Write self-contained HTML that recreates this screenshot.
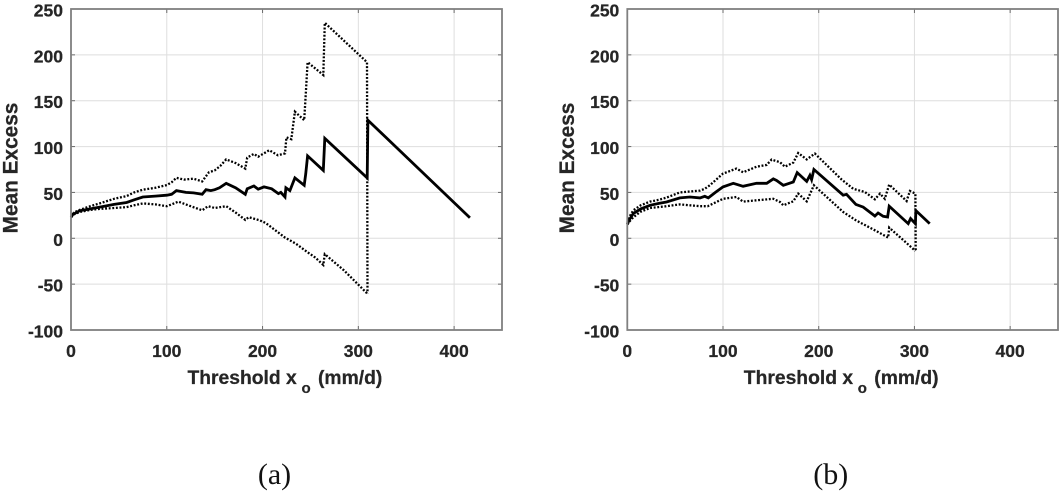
<!DOCTYPE html>
<html><head><meta charset="utf-8">
<style>
html,body{margin:0;padding:0;background:#fff}
svg{display:block}
text{font-family:"Liberation Sans",sans-serif;font-weight:bold;fill:#262626;stroke:#262626;stroke-width:.25}
</style></head>
<body>
<svg id="fig" width="1060" height="494" viewBox="0 0 1060 494" xmlns="http://www.w3.org/2000/svg"></svg>
<script>
const xTicks = [0, 100, 200, 300, 400];
const yTicks = [-100, -50, 0, 50, 100, 150, 200, 250];
const xDomain = [0, 450];
const yDomain = [-100, 250];

const aMeanX = [0,2,9,20,30,45,58,66,75,88,100,105,110,120,128,137,141,146,150,155,162,172,182,184,191,195.5,201.5,209.5,216.5,219,223.4,224.4,228.6,233.8,243.5,245,247,263.4,265,309.3,310,416.5];
const aMeanY = [23,26,30,32,34,37,39,42,45,46,47,48,52,50,49.5,48,53,52,53,55,60,55,48,54,57,53.5,56,54,48.7,50,45,55,52,65.8,57.8,70,89.8,74,109,65.8,128.7,22.5];
const aUpperX = [0,3,9,20,30,45,58,66,75,88,100,105,110,118,128,137,144,150,156,162,172,182,184,191,195.5,207,216,223.4,224.9,230,233.8,243.5,245,247,263.4,265,309,309.6];
const aUpperY = [23,28,31,35,38,43,46,50,53,55,58,61,66,64,65,62,72,74,79,86,82,76,88,92,89,96,90.5,92.5,110,108,138,128.7,156,192,178,235,192,-60];
const aLowerX = [0,3,9,20,30,45,58,66,75,88,100,105,112,125,137,143,150,162,172,182,185.5,197,203.3,223.4,235,246.6,255,263.4,265,285,309];
const aLowerY = [23,26,28.7,31,32,33,34,36,38,37,35,37,40,35,30.5,35,33,35,28,20,23,19.6,16.7,0.7,-6,-15,-21,-29,-17.4,-35,-60];

const bMeanX = [0,2,6.3,14,23.7,33,41,55,65.5,76,81,84.6,92,100,110.7,121,135,145.6,152.5,156,163,173.4,177.5,187.4,190.8,192.6,195,225.6,229,238.8,246.5,258.7,262,267.4,272,273.6,293.5,296,301,301.5,316];
const bMeanY = [15,20,27,32,36,38,39.6,44,45,44,45.8,44,50,56,60,56.7,60,60,64.7,63,57.8,61.4,71.6,62,68.7,64,75,47,48,37,34,24.3,27.6,24,23.2,35,16,21.5,16,30.2,16];
const bUpperX = [0,2,6.3,14,23.7,33,41,55,76,81,86.4,100,114,121,135,145.6,150.8,159.5,164.7,173.4,178.6,187.4,196,224,236,248.2,258.7,264,269,273.6,291.8,295.3,301,301.3];
const bUpperY = [17,23,30.5,36,40,42,44.4,50,52,54,58,70.5,76,72,78,80,85.8,83,78,82.5,93,86,92.3,64,54,50.5,42.5,48.7,43,58.5,40.7,51.6,48.7,-13.8];
const bLowerX = [0,2,6.3,14,23.7,41,55,76,84,100,114,121,135,152.5,159.5,163,173.4,178.6,187.4,195,225.6,238.8,258.7,272.6,273.6,301];
const bLowerY = [15,18,23,29,33,35,37,35,35,43,45,40,41.4,43,39.6,36,40.3,48.7,40.3,57.8,28.7,19.6,8.7,0.8,11.7,-13.8];

const NS = 'http://www.w3.org/2000/svg';
const fig = document.getElementById('fig');

function make(parent, tag, attrs) {
  const el = document.createElementNS(NS, tag);
  for (const k in attrs) el.setAttribute(k, attrs[k]);
  parent.appendChild(el);
  return el;
}

function drawPanel(box, id, mean, upper, lower, letter) {
  const g = make(fig, 'g', {});
  
  

  const sx = v => box.x0 + (v - xDomain[0]) / (xDomain[1] - xDomain[0]) * (box.x1 - box.x0);
  const sy = v => box.y1 - (v - yDomain[0]) / (yDomain[1] - yDomain[0]) * (box.y1 - box.y0);
  const pts = (xs, ys) => xs.map((x, i) => sx(x).toFixed(1) + ',' + sy(ys[i]).toFixed(1)).join(' ');

  xTicks.forEach(t => {
    const grid = make(g, 'line', {x1: sx(t), x2: sx(t), y1: box.y0, y2: box.y1, stroke: '#dedede', 'stroke-width': 1});
    
    
    const tick = make(g, 'line', {x1: sx(t), x2: sx(t), y1: box.y1, y2: box.y1 - 4, stroke: '#6a6a6a', 'stroke-width': 1});
    
    
    make(g, 'line', {x1: sx(t), x2: sx(t), y1: box.y0, y2: box.y0 + 4, stroke: '#6a6a6a', 'stroke-width': 1});
    const label = make(g, 'text', {x: sx(t), y: box.y1 + 27, 'text-anchor': 'middle', 'font-size': 17.5});
    
    
    label.textContent = t;
  });
  yTicks.forEach(t => {
    const grid = make(g, 'line', {x1: box.x0, x2: box.x1, y1: sy(t), y2: sy(t), stroke: '#dedede', 'stroke-width': 1});
    
    
    const tick = make(g, 'line', {x1: box.x0, x2: box.x0 + 4, y1: sy(t), y2: sy(t), stroke: '#6a6a6a', 'stroke-width': 1});
    
    
    make(g, 'line', {x1: box.x1 - 4, x2: box.x1, y1: sy(t), y2: sy(t), stroke: '#6a6a6a', 'stroke-width': 1});
    const label = make(g, 'text', {x: box.x0 - 8, y: sy(t) + 7.5, 'text-anchor': 'end', 'font-size': 17.5});
    
    
    label.textContent = t;
  });

  const upperLine = make(g, 'polyline', {points: pts(upper[0], upper[1]), fill: 'none', stroke: '#000', 'stroke-width': 2.3, 'stroke-dasharray': '1.9 1.7'});
  
  
  const lowerLine = make(g, 'polyline', {points: pts(lower[0], lower[1]), fill: 'none', stroke: '#000', 'stroke-width': 2.3, 'stroke-dasharray': '1.9 1.7'});
  
  
  const meanLine = make(g, 'polyline', {points: pts(mean[0], mean[1]), fill: 'none', stroke: '#000', 'stroke-width': 2.8, 'stroke-linejoin': 'miter'});
  
  

  const frame = make(g, 'rect', {x: box.x0, y: box.y0, width: box.x1 - box.x0, height: box.y1 - box.y0, fill: 'none', stroke: '#808080', 'stroke-width': 1.8});
  
  

  const xTitle = make(g, 'text', {x: box.x0 + 116.5, y: box.y1 + 54, 'font-size': 19.3});
  
  
  xTitle.textContent = 'Threshold x';
  const xSub = make(g, 'text', {x: box.x0 + 230.5, y: box.y1 + 63, 'font-size': 15});
  
  
  xSub.textContent = 'o';
  const xUnit = make(g, 'text', {x: box.x0 + 247, y: box.y1 + 54, 'font-size': 19.3});
  
  
  xUnit.textContent = '(mm/d)';

  const yTitle = make(g, 'text', {x: 0, y: 0, 'text-anchor': 'middle', 'font-size': 20.8, transform: 'translate(' + (box.x0 - 53.5) + ' 168) rotate(-90)'});
  
  
  yTitle.textContent = 'Mean Excess';

  const caption = make(g, 'text', {x: box.x0 + 203.5, y: 484, 'text-anchor': 'middle', 'font-size': 30});
  
  
  caption.setAttribute('style', 'font-family:"Liberation Serif",serif;font-weight:normal;fill:#111;stroke:none');
  caption.textContent = letter;
}

drawPanel({x0: 71, x1: 502, y0: 9, y1: 330}, 'a', [aMeanX, aMeanY], [aUpperX, aUpperY], [aLowerX, aLowerY], '(a)');
drawPanel({x0: 627.3, x1: 1058, y0: 9, y1: 330}, 'b', [bMeanX, bMeanY], [bUpperX, bUpperY], [bLowerX, bLowerY], '(b)');
</script>
</body></html>
